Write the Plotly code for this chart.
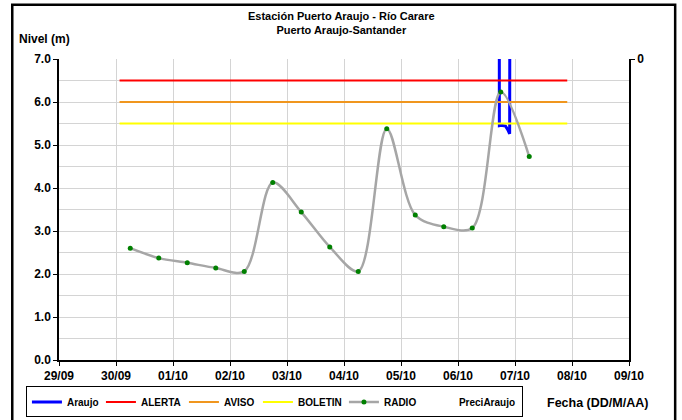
import plotly.graph_objects as go

# ---- data ----
radio_times = [
    "2023-09-30 06:00", "2023-09-30 18:00", "2023-10-01 06:00", "2023-10-01 18:00",
    "2023-10-02 06:00", "2023-10-02 18:00", "2023-10-03 06:00", "2023-10-03 18:00",
    "2023-10-04 06:00", "2023-10-04 18:00", "2023-10-05 06:00", "2023-10-05 18:00",
    "2023-10-06 06:00", "2023-10-06 18:00", "2023-10-07 06:00",
]
radio_values = [2.60, 2.37, 2.26, 2.14, 2.06, 4.13, 3.44, 2.63, 2.06, 5.38,
                3.37, 3.10, 3.07, 6.23, 4.73]

araujo_times = ["2023-10-06 17:20", "2023-10-06 17:25", "2023-10-06 18:10",
                "2023-10-06 20:00", "2023-10-06 21:00", "2023-10-06 21:45",
                "2023-10-06 21:55"]
araujo_values = [12.0, 5.45, 5.46, 5.44, 5.35, 5.26, 12.0]

threshold_times = ["2023-09-30 01:30", "2023-10-07 22:00"]
alerta_level = 6.5
aviso_level = 6.0
boletin_level = 5.5

precip_times = ["2023-09-30 06:00"]
precip_values = [0]

x_range = ["2023-09-29", "2023-10-09"]
y_range = [0, 7]

title_text = "Estación Puerto Araujo - Río Carare<br>Puerto Araujo-Santander"
y_title = "Nivel (m)"
x_title = "Fecha (DD/M/AA)"

FONT = "Arial, Liberation Sans, sans-serif"

fig = go.Figure()
fig.add_trace(go.Scatter(x=araujo_times, y=araujo_values, name="Araujo",
                         mode="lines", line=dict(color="#0000ff", width=3),
                         legendwidth=29))
fig.add_trace(go.Scatter(x=threshold_times, y=[alerta_level] * 2, name="ALERTA",
                         mode="lines", line=dict(color="#ff0000", width=2),
                         legendwidth=38))
fig.add_trace(go.Scatter(x=threshold_times, y=[aviso_level] * 2, name="AVISO",
                         mode="lines", line=dict(color="#f0961e", width=2),
                         legendwidth=29))
fig.add_trace(go.Scatter(x=threshold_times, y=[boletin_level] * 2, name="BOLETIN",
                         mode="lines", line=dict(color="#ffff00", width=2),
                         legendwidth=41))
fig.add_trace(go.Scatter(x=radio_times, y=radio_values, name="RADIO",
                         mode="lines+markers",
                         line=dict(color="#a6a6a6", width=2.5, shape="spline", smoothing=0.9),
                         marker=dict(color="#008000", size=5),
                         legendwidth=30))
fig.add_trace(go.Bar(x=precip_times, y=precip_values, name="PreciAraujo",
                     yaxis="y2", marker=dict(color="rgba(0,0,0,0)", line=dict(width=0)),
                     legendwidth=58))

fig.update_layout(
    width=682, height=420,
    margin=dict(l=59, r=53, t=59, b=60, autoexpand=False),
    paper_bgcolor="white", plot_bgcolor="white",
    font=dict(family=FONT, size=12, color="black", weight="bold"),
    xaxis=dict(type="date", range=x_range, dtick=86400000, tickformat="%d/%m",
               showgrid=True, gridcolor="#d4d4d4", gridwidth=1,
               showline=True, linecolor="black", linewidth=1.5,
               ticks="outside", ticklen=4, tickcolor="black",
               tickfont=dict(size=12, weight="bold"), zeroline=False),
    yaxis=dict(range=y_range, dtick=1, tickformat=".1f",
               showgrid=True, gridcolor="#d4d4d4", gridwidth=1,
               minor=dict(dtick=0.5, showgrid=True, gridcolor="#d4d4d4", gridwidth=1),
               showline=True, linecolor="black", linewidth=1.5,
               ticks="outside", ticklen=4, tickcolor="black",
               tickfont=dict(size=12, weight="bold"), zeroline=False),
    yaxis2=dict(overlaying="y", side="right", range=[10, 0], tickvals=[0],
                showgrid=False, showline=True, linecolor="black", linewidth=1.5,
                ticks="outside", ticklen=4, tickcolor="black",
                tickfont=dict(size=12, weight="bold"), zeroline=False),
    showlegend=True,
    legend=dict(orientation="h", x=-0.058, xanchor="left", y=-0.088, yanchor="top",
                bordercolor="black", borderwidth=1, bgcolor="white",
                font=dict(size=10, weight="bold"), itemwidth=30,
                traceorder="normal"),
    barmode="overlay",
)

fig.add_annotation(text=title_text, xref="paper", yref="paper", x=0.495, y=1.1206,
                   xanchor="center", yanchor="middle", showarrow=False,
                   font=dict(size=11, weight="bold"))
fig.add_annotation(text=y_title, xref="paper", yref="paper", x=-0.0258, y=1.0675,
                   xanchor="center", yanchor="middle", showarrow=False,
                   font=dict(size=12, weight="bold"))
fig.add_annotation(text=x_title, xref="paper", yref="paper", x=0.944, y=-0.1419,
                   xanchor="center", yanchor="middle", showarrow=False,
                   font=dict(size=12.5, weight="bold"))

fig.add_shape(type="rect", xref="paper", yref="paper", x0=-0.082, x1=1.081,
              y0=-0.25, y1=1.18, line=dict(color="black", width=2.5),
              fillcolor="rgba(0,0,0,0)", layer="above")

fig.write_html("out.html", config={"displayModeBar": False},
               post_script="document.body.style.margin='0';document.body.style.overflow='hidden';")
